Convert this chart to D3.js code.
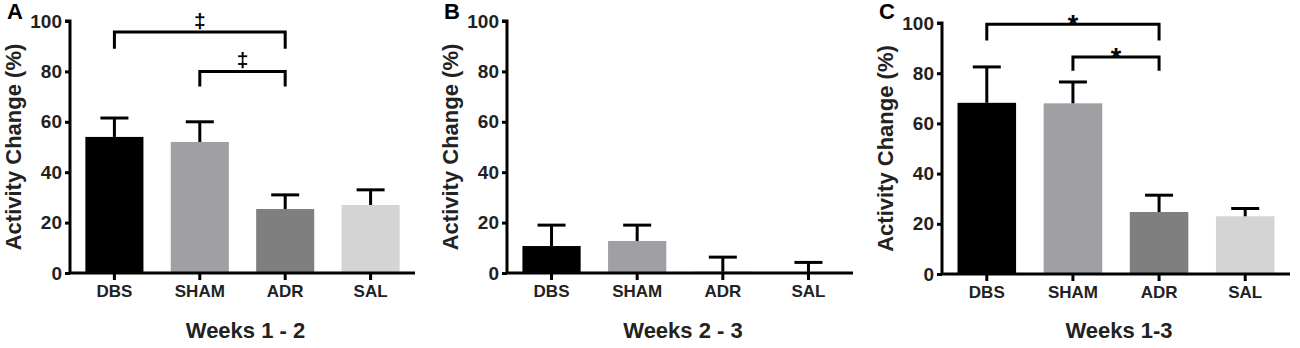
<!DOCTYPE html>
<html>
<head>
<meta charset="utf-8">
<script src="https://cdn.jsdelivr.net/npm/d3@7"></script>
<style>
    body { margin: 0; background: #fff; }
    svg { display: block; font-family: "Liberation Sans", Arial, sans-serif; font-weight: bold; }
</style>
</head>
<body>
<svg id="chart" width="1300" height="348"></svg>
<script>
const groups = ['DBS', 'SHAM', 'ADR', 'SAL'];
const barColors = ['#000000', '#a0a0a4', '#7f7f7f', '#d4d4d4'];
const yTicks = [0, 20, 40, 60, 80, 100];

const meansA = [54, 52, 25.4, 27];
const errorsA = [61.5, 60, 31, 33];
const meansB = [10.7, 12.7, 0.5, 0.3];
const errorsB = [19, 19, 6.3, 4.2];
const meansC = [68.2, 68, 24.7, 23];
const errorsC = [82.5, 76.5, 31.4, 26.1];

// brackets: [from, to, level, leg bottom, symbol]
const bracketsA = [['DBS', 'ADR', 95.6, 89, '\u2021'], ['SHAM', 'ADR', 80, 74, '\u2021']];
const bracketsC = [['DBS', 'ADR', 99.5, 93, '*'], ['SHAM', 'ADR', 86.5, 81, '*']];

const panels = [
    {letter: 'A', title: 'Weeks 1 - 2', means: meansA, errors: errorsA, brackets: bracketsA, axisX: 70, endX: 415, top: 21, bottom: 273},
    {letter: 'B', title: 'Weeks 2 - 3', means: meansB, errors: errorsB, brackets: [], axisX: 507, endX: 853, top: 21, bottom: 273},
    {letter: 'C', title: 'Weeks 1-3', means: meansC, errors: errorsC, brackets: bracketsC, axisX: 942, endX: 1290, top: 23, bottom: 274}
];

const svg = d3.select('#chart');
const fontFamily = '"Liberation Sans", Arial, sans-serif';

function drawPanel (p) {
    const g = svg.append('g');

    const y = d3.scaleLinear().domain([0, 100]).range([p.bottom, p.top]);
    const x = d3.scaleBand().domain(groups).range([p.axisX, p.endX]).paddingInner(0.32).paddingOuter(0.18);

    const data = groups.map(function (d, i) {
        return {name: d, mean: p.means[i], err: p.errors[i], color: barColors[i]};
    });

    // bars
    g.selectAll('.bar')
        .data(data)
        .enter()
        .append('rect')
        .attr('x', d => x(d.name))
        .attr('width', x.bandwidth())
        .attr('y', d => y(d.mean))
        .attr('height', d => y(0) - y(d.mean))
        .attr('fill', d => d.color);

    // error bars (upper only)
    const cx = d => x(d.name) + x.bandwidth() / 2;
    g.selectAll('.err')
        .data(data)
        .enter()
        .append('line')
        .attr('x1', cx).attr('x2', cx)
        .attr('y1', d => y(d.mean)).attr('y2', d => y(d.err))
        .style('stroke', '#000').style('stroke-width', '3px');
    g.selectAll('.cap')
        .data(data)
        .enter()
        .append('line')
        .attr('x1', d => cx(d) - 14).attr('x2', d => cx(d) + 14)
        .attr('y1', d => y(d.err)).attr('y2', d => y(d.err))
        .style('stroke', '#000').style('stroke-width', '3px');

    // axes
    const yAxis = g.append('g')
        .attr('transform', 'translate(' + p.axisX + ',0)')
        .call(d3.axisLeft(y).tickValues(yTicks).tickSize(5).tickPadding(3));
    yAxis.select('.domain').attr('d', 'M-5,' + y(100) + 'H0V' + y(0)).style('stroke-width', '3px');
    yAxis.selectAll('.tick line').style('stroke-width', '3px');
    yAxis.selectAll('.tick text')
        .style('font-size', '19px').style('font-weight', 'bold').style('font-family', fontFamily)
        .attr('fill', '#222');

    const xAxis = g.append('g')
        .attr('transform', 'translate(0,' + p.bottom + ')')
        .call(d3.axisBottom(x).tickSize(7).tickPadding(5));
    xAxis.select('.domain').attr('d', 'M' + p.axisX + ',0H' + p.endX).style('stroke-width', '3px');
    xAxis.selectAll('.tick line').style('stroke-width', '3px');
    xAxis.selectAll('.tick text')
        .style('font-size', '17px').style('font-weight', 'bold').style('font-family', fontFamily)
        .attr('fill', '#222');

    // significance brackets
    p.brackets.forEach(function (b) {
        const x1 = x(b[0]) + x.bandwidth() / 2;
        const x2 = x(b[1]) + x.bandwidth() / 2;
        g.append('path')
            .attr('d', 'M' + x1 + ',' + y(b[3]) + 'V' + y(b[2]) + 'H' + x2 + 'V' + y(b[3]))
            .attr('fill', 'none')
            .style('stroke', '#000').style('stroke-width', '3px');
        g.append('text')
            .attr('x', (x1 + x2) / 2)
            .attr('y', y(b[2]) - (b[4] === '*' ? -10 : 4))
            .attr('text-anchor', 'middle')
            .style('font-size', b[4] === '*' ? '27px' : '21px')
            .text(b[4]);
    });

    // axis titles
    g.append('text')
        .attr('transform', 'translate(' + (p.axisX - 49) + ',' + ((p.top + p.bottom) / 2) + ') rotate(-90)')
        .attr('text-anchor', 'middle')
        .style('font-size', '22px')
        .attr('fill', '#222')
        .text('Activity Change (%)');
    g.append('text')
        .attr('x', (p.axisX + p.endX) / 2 + 3)
        .attr('y', 338)
        .attr('text-anchor', 'middle')
        .style('font-size', '22px')
        .attr('fill', '#222')
        .text(p.title);

    // panel letter
    g.append('text')
        .attr('x', p.axisX - 63)
        .attr('y', 19)
        .style('font-size', '22px')
        .text(p.letter);
}

panels.forEach(drawPanel);
</script>
</body>
</html>
